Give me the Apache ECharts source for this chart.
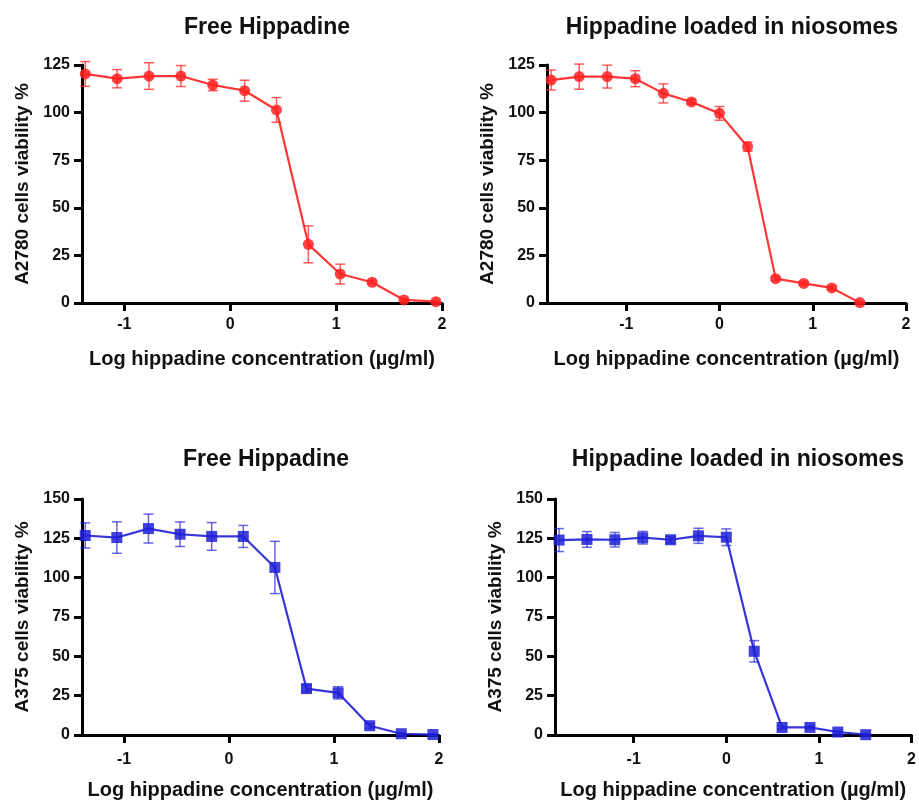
<!DOCTYPE html>
<html>
<head>
<meta charset="utf-8">
<script src="https://cdn.jsdelivr.net/npm/echarts@6/dist/echarts.min.js"></script>
<style>
html,body{margin:0;padding:0;background:#fff;}
#chart{width:919px;height:801px;}
</style>
</head>
<body>
<div id="chart"></div>
<script>
// ---- Data ----
const titles = ["Free Hippadine", "Hippadine loaded in niosomes", "Free Hippadine", "Hippadine loaded in niosomes"];
const yNames = ["A2780 cells viability %", "A2780 cells viability %", "A375 cells viability %", "A375 cells viability %"];
const xName = "Log hippadine concentration (\u00b5g/ml)";
const xTicks = [-1, 0, 1, 2];

const xFree = [-1.369, -1.068, -0.767, -0.466, -0.165, 0.136, 0.437, 0.738, 1.039, 1.340, 1.641, 1.942];
const xNio = [-1.806, -1.505, -1.204, -0.903, -0.602, -0.301, 0, 0.301, 0.602, 0.903, 1.204, 1.505];

const yA2780Free = [120.3, 117.8, 119.2, 119.2, 114.5, 111.5, 101.4, 30.8, 15.2, 10.9, 1.6, 0.7];
const eA2780Free = [6.5, 4.8, 7.0, 5.5, 3.0, 5.5, 6.5, 9.7, 5.2, 1.0, 0.8, 0.5];

const yA2780Nio = [117.1, 118.9, 118.9, 117.8, 110.1, 105.6, 99.6, 82.1, 12.8, 10.3, 7.9, 0.2];
const eA2780Nio = [5.2, 6.6, 6.0, 4.2, 5.0, 1.2, 3.6, 2.4, 1.0, 1.0, 1.0, 0.5];

const yA375Free = [126.8, 125.5, 131.2, 127.6, 126.2, 126.2, 106.5, 29.5, 26.8, 5.9, 0.8, 0.3];
const eA375Free = [8.0, 10.0, 9.2, 7.8, 8.8, 7.0, 16.6, 2.0, 3.9, 1.5, 0.5, 0.5];

const yA375Nio = [123.9, 124.3, 124.1, 125.4, 124.1, 126.6, 125.7, 53.2, 4.8, 4.8, 1.9, 0.2];
const eA375Nio = [7.3, 5.0, 4.6, 4.0, 2.0, 4.8, 5.3, 6.8, 1.0, 1.0, 0.5, 0.5];

const panels = [
  {x: xFree, y: yA2780Free, e: eA2780Free, xmin: -1.4, ymax: 125, color: '#ff2020', errColor: 'rgba(255,40,40,0.75)', symbol: 'circle', size: 11},
  {x: xNio, y: yA2780Nio, e: eA2780Nio, xmin: -1.85, ymax: 125, color: '#ff2020', errColor: 'rgba(255,40,40,0.75)', symbol: 'circle', size: 11},
  {x: xFree, y: yA375Free, e: eA375Free, xmin: -1.4, ymax: 150, color: '#1f1fd6', errColor: 'rgba(40,40,220,0.7)', symbol: 'rect', size: 11},
  {x: xNio, y: yA375Nio, e: eA375Nio, xmin: -1.85, ymax: 150, color: '#1f1fd6', errColor: 'rgba(40,40,220,0.7)', symbol: 'rect', size: 11}
];

// ---- Layout ----
const grids = [
  {left: 82, top: 65, width: 360, height: 238},
  {left: 547, top: 65, width: 359, height: 238},
  {left: 82, top: 499, width: 357, height: 237},
  {left: 555, top: 499, width: 360, height: 237}
];
const titlePos = [
  {left: 262, top: 11},
  {left: 727, top: 11},
  {left: 261, top: 443},
  {left: 733, top: 443}
];
const FONT = '"Liberation Sans", Arial, sans-serif';

const option = {
  backgroundColor: '#fff',
  animation: false,
  title: titles.map((t, i) => ({
    text: t, left: titlePos[i].left, top: titlePos[i].top, textAlign: 'center',
    textStyle: {fontFamily: FONT, fontWeight: 'bold', fontSize: 23, color: '#111'}
  })),
  grid: grids.map(g => Object.assign({}, g)),
  xAxis: panels.map((p, i) => ({
    type: 'value', gridIndex: i, min: p.xmin, max: 2,
    name: xName, nameLocation: 'middle', nameGap: i < 2 ? 46 : 45,
    nameTextStyle: {fontFamily: FONT, fontWeight: 'bold', fontSize: 20, color: '#111'},
    axisLine: {onZero: false, lineStyle: {color: '#000', width: 3}},
    axisTick: {show: true, customValues: xTicks, length: 8, lineStyle: {color: '#000', width: 3}},
    axisLabel: {customValues: xTicks, margin: i < 2 ? 14 : 17, fontFamily: FONT, fontWeight: 'bold', fontSize: 16, color: '#111'},
    splitLine: {show: false}
  })),
  yAxis: panels.map((p, i) => ({
    type: 'value', gridIndex: i, min: 0, max: p.ymax, interval: 25,
    name: yNames[i], nameLocation: 'middle', nameGap: 50,
    nameTextStyle: {fontFamily: FONT, fontWeight: 'bold', fontSize: 19, color: '#111'},
    axisLine: {show: true, onZero: false, lineStyle: {color: '#000', width: 3}},
    axisTick: {show: true, length: 8, lineStyle: {color: '#000', width: 3}},
    axisLabel: {margin: 12, fontFamily: FONT, fontWeight: 'bold', fontSize: 16, color: '#111'},
    splitLine: {show: false}
  })),
  series: []
};

panels.forEach((p, i) => {
  const errData = p.x.map((xv, k) => [xv, Math.max(0, p.y[k] - p.e[k]), p.y[k] + p.e[k]]);
  option.series.push({
    type: 'custom', xAxisIndex: i, yAxisIndex: i, z: 1,
    data: errData,
    renderItem: function (params, api) {
      const xv = api.value(0), lo = api.value(1), hi = api.value(2);
      const a = api.coord([xv, hi]);
      const b = api.coord([xv, lo]);
      const w = 5;
      const st = {stroke: p.errColor, lineWidth: 1.5};
      return {
        type: 'group',
        children: [
          {type: 'line', shape: {x1: a[0], y1: a[1], x2: b[0], y2: b[1]}, style: st},
          {type: 'line', shape: {x1: a[0] - w, y1: a[1], x2: a[0] + w, y2: a[1]}, style: st},
          {type: 'line', shape: {x1: b[0] - w, y1: b[1], x2: b[0] + w, y2: b[1]}, style: st}
        ]
      };
    },
    silent: true
  });
  option.series.push({
    type: 'line', xAxisIndex: i, yAxisIndex: i, z: 2,
    data: p.x.map((xv, k) => [xv, p.y[k]]),
    symbol: p.symbol, symbolSize: p.size, showSymbol: true,
    lineStyle: {color: p.color, width: 2.2, opacity: 0.9},
    itemStyle: {color: p.color, opacity: 0.85},
    silent: true
  });
});

const chart = echarts.init(document.getElementById('chart'), null, {renderer: 'canvas'});
chart.setOption(option);
</script>
</body>
</html>
